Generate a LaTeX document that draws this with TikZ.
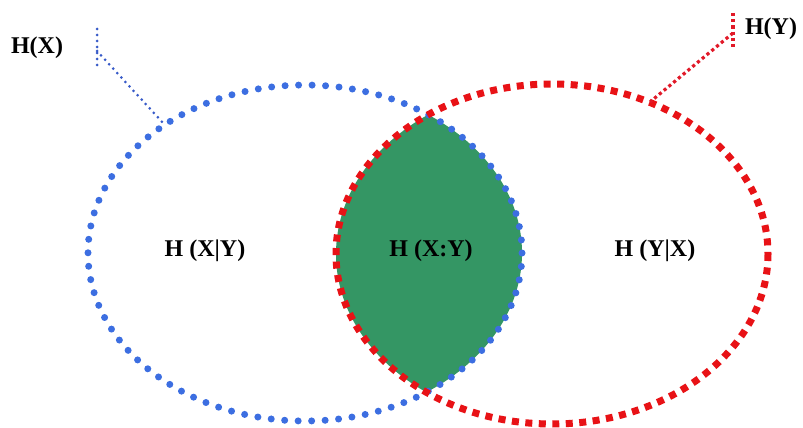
\documentclass[tikz,border=0pt]{standalone}
\usepackage{fontspec}
\setmainfont{Liberation Serif}
\begin{document}
\begin{tikzpicture}[x=1pt,y=-1pt,
  bluedots/.style={draw={rgb,255:red,60;green,110;blue,225}, line width=7pt, line cap=round, dash pattern=on 0pt off 13.5pt},
  reddash/.style={draw={rgb,255:red,232;green,18;blue,22}, line width=7pt, dash pattern=on 7pt off 6.5pt},
  blueleader/.style={draw={rgb,255:red,55;green,90;blue,200}, line width=3pt, line cap=round, dash pattern=on 0pt off 6pt},
  redleader/.style={draw={rgb,255:red,225;green,25;blue,40}, line width=3.2pt, dash pattern=on 3.2pt off 3pt},
  lbl/.style={font=\fontsize{24}{28}\selectfont\bfseries, text=black, inner sep=0pt}]
\useasboundingbox (0,0) rectangle (803,428);
% intersection fill
\begin{scope}
  \clip (305,253) ellipse [x radius=217, y radius=168];
  \fill[fill={rgb,255:red,52;green,150;blue,100}] (552,254) ellipse [x radius=216, y radius=170];
\end{scope}
\path[bluedots] (305,253) ellipse [x radius=217, y radius=168];
\path[reddash] (552,254) ellipse [x radius=216, y radius=170];
% leaders
\coordinate (bx1) at (97,29);
\coordinate (bx2) at (97,66);
\coordinate (bxm) at (97,51);
\coordinate (bxe) at (164,124);
\coordinate (ry1) at (733,13);
\coordinate (ry2) at (733,48);
\coordinate (rym) at (733,33);
\coordinate (rye) at (650,102);
\path[blueleader] (bx1) -- (bx2);
\path[blueleader] (bxm) -- (bxe);
\path[redleader] (ry1) -- (ry2);
\path[redleader] (rym) -- (rye);
% labels
\node[lbl] (hx) at (37,48) {H(X)};
\node[lbl] (hy) at (771,29) {H(Y)};
\node[lbl] (xy) at (205,251) {H (X|Y)};
\node[lbl] (mi) at (431,251) {H (X:Y)};
\node[lbl] (yx) at (655,251) {H (Y|X)};
\end{tikzpicture}
\end{document}
